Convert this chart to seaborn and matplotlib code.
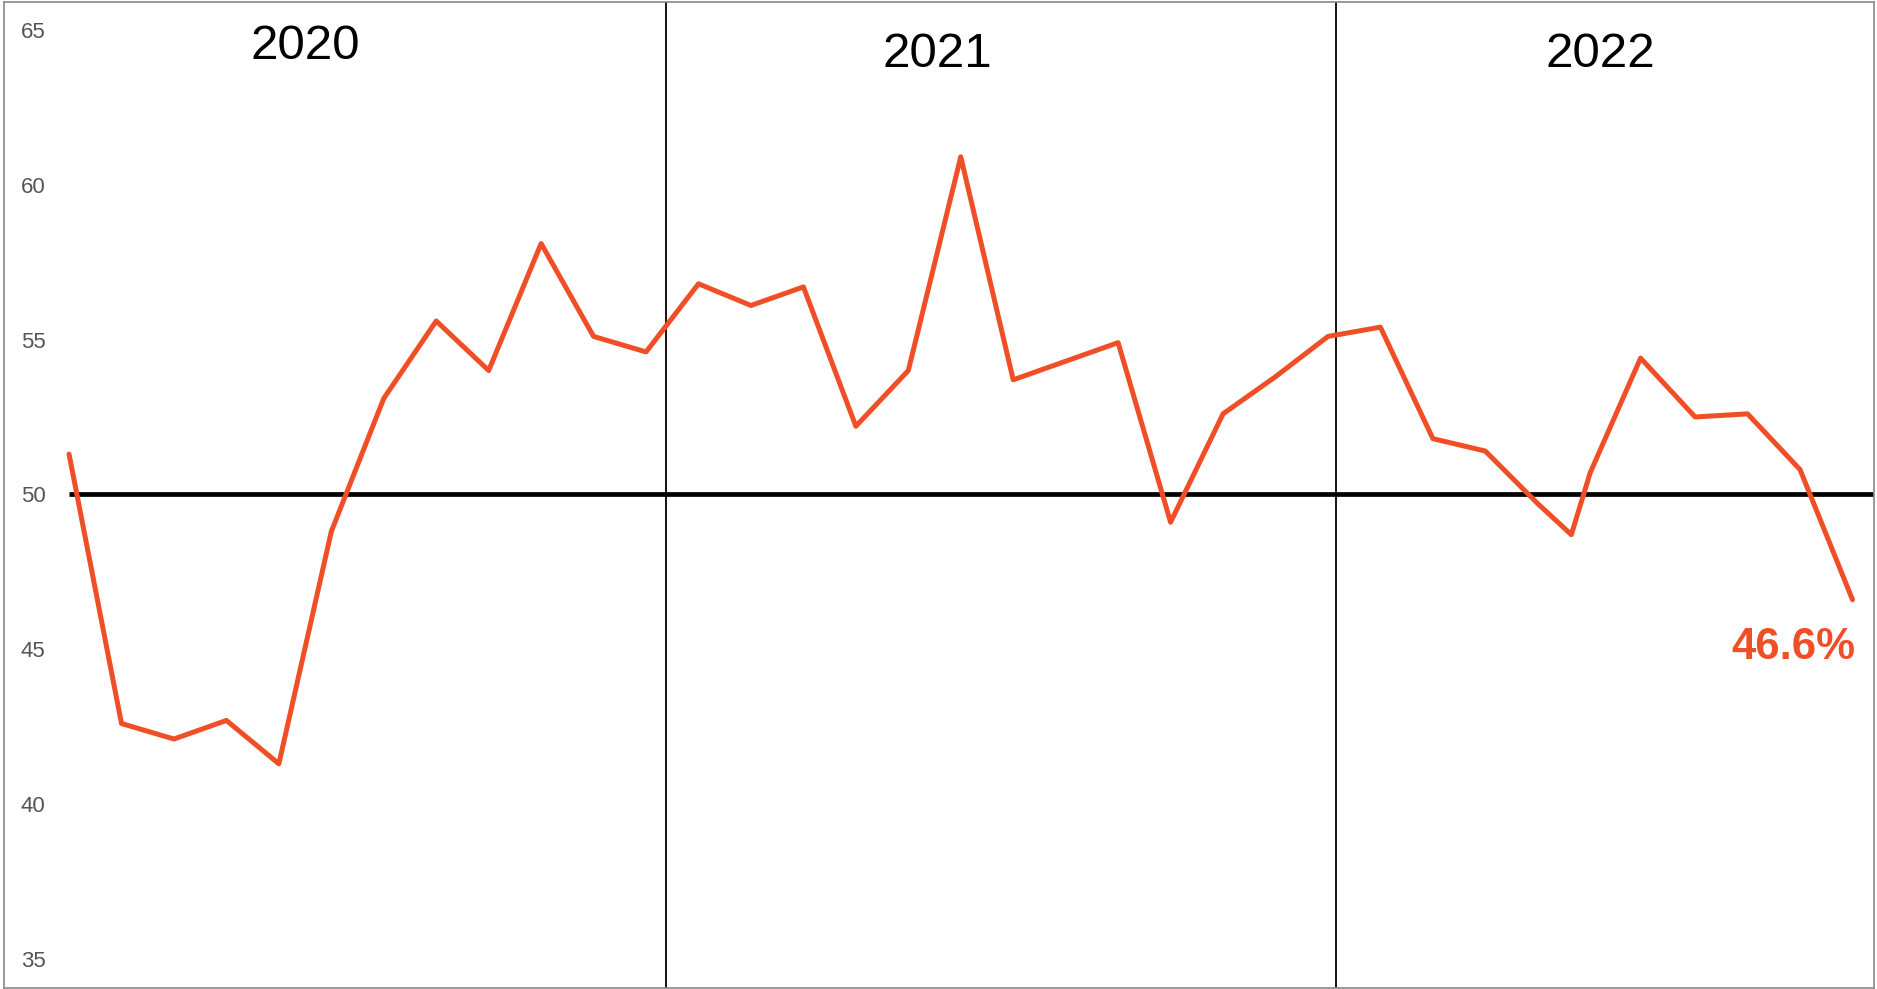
import matplotlib
matplotlib.use("Agg")
import matplotlib.pyplot as plt
import seaborn as sns
import pandas as pd

# Monthly index readings (Jan 2020 .. Nov 2022), one extra mid-month dip in 2022
month_pos = [0, 1, 2, 3, 4, 5, 6, 7, 8, 9, 10, 11,
             12, 13, 14, 15, 16, 17, 18, 19, 20, 21, 22, 23,
             24, 25, 26, 27, 28, 28.64, 29, 29.96, 31, 32, 33, 34]
index_values = [51.3, 42.6, 42.1, 42.7, 41.3, 48.8, 53.1, 55.6, 54.0, 58.1, 55.1, 54.6,
                56.8, 56.1, 56.7, 52.2, 54.0, 60.9, 53.7, 54.3, 54.9, 49.1, 52.6, 53.8,
                55.1, 55.4, 51.8, 51.4, 49.7, 48.7, 50.7, 54.4, 52.5, 52.6, 50.8, 46.6]

years = ["2020", "2021", "2022"]
year_label_x = [4.5, 16.55, 29.2]
year_label_y = [64.45, 64.2, 64.2]
year_dividers = [11.39, 24.15]
y_ticks = [35, 40, 45, 50, 55, 60, 65]

df = pd.DataFrame({"month": month_pos, "value": index_values})

sns.set_style("white")
plt.rcParams["font.family"] = ["Liberation Sans", "DejaVu Sans"]

line_color = "#F04E26"

fig = plt.figure(figsize=(18.77, 9.89), dpi=100)
ax = fig.add_axes([4 / 1877, 1 / 989, 1870 / 1877, 986 / 989])

# Year dividers and the 50 threshold
for xd in year_dividers:
    ax.axvline(xd, color="black", lw=1.3, zorder=1)
ax.hlines(50, 0, 36, color="black", lw=3.4, zorder=2)

sns.lineplot(data=df, x="month", y="value", color=line_color, lw=3.6,
             sort=True, ax=ax, zorder=3, solid_joinstyle="round", solid_capstyle="round")

for lbl, xl, yl in zip(years, year_label_x, year_label_y):
    ax.text(xl, yl, lbl, ha="center", va="center", fontsize=35.5, color="black")

# Last value label
ax.annotate(f"{index_values[-1]}%", xy=(month_pos[-1], index_values[-1]),
            xytext=(2, -20), textcoords="offset points", ha="right", va="top",
            fontsize=31.5, fontweight="bold", color=line_color)

ax.set_xlim(-1.24, 34.41)
ax.set_ylim(34.06, 65.9)
ax.set_yticks(y_ticks)
ax.set_xticks([])
ax.set_xlabel("")
ax.set_ylabel("")
ax.tick_params(axis="y", length=0, pad=-30, labelsize=16, labelcolor="#555555")
for t in ax.get_yticklabels():
    t.set_horizontalalignment("right")

for s in ax.spines.values():
    s.set_color("#888888")
    s.set_linewidth(1.2)

fig.savefig("out.png", dpi=100)
